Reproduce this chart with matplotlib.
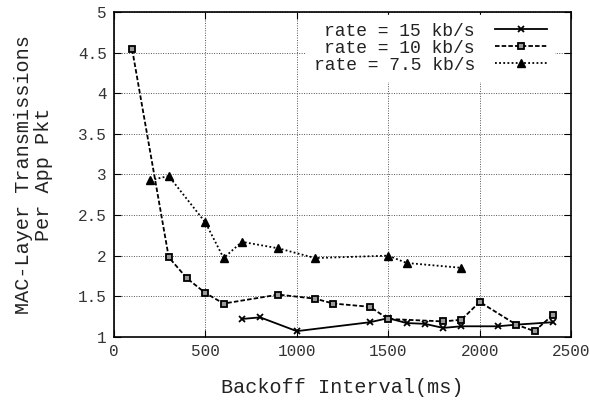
import matplotlib.pyplot as plt

# rate = 15 kb/s
x15 = [700, 800, 1000, 1400, 1500, 1600, 1700, 1800, 1900, 2100, 2200, 2400]
y15 = [1.22, 1.24, 1.07, 1.18, 1.23, 1.17, 1.16, 1.11, 1.13, 1.13, 1.15, 1.18]

# rate = 10 kb/s
x10 = [100, 300, 400, 500, 600, 900, 1100, 1200, 1400, 1500, 1800, 1900, 2000, 2200, 2300, 2400]
y10 = [4.54, 1.98, 1.72, 1.54, 1.41, 1.52, 1.47, 1.41, 1.37, 1.22, 1.19, 1.21, 1.43, 1.15, 1.07, 1.27]

# rate = 7.5 kb/s
x75 = [200, 300, 500, 600, 700, 900, 1100, 1500, 1600, 1900]
y75 = [2.93, 2.98, 2.41, 1.97, 2.17, 2.09, 1.97, 2.00, 1.91, 1.85]

xticks = [0, 500, 1000, 1500, 2000, 2500]
yticks = [1, 1.5, 2, 2.5, 3, 3.5, 4, 4.5, 5]
ylabels = ["1", "1.5", "2", "2.5", "3", "3.5", "4", "4.5", "5"]

plt.rcParams["font.family"] = "Liberation Mono"

fig = plt.figure(figsize=(5.9, 4.01), dpi=100)
ax = fig.add_axes([0.193, 0.160, 0.775, 0.810])

ax.plot(x15, y15, color="black", lw=1.3, ls="-", marker="x", ms=4, mew=1.3,
        label="rate = 15 kb/s")
ax.plot(x10, y10, color="black", lw=1.3, ls=(0, (2.5, 1.2)), marker="s", ms=5,
        mfc="#9a9a9a", mec="black", mew=1.3, label="rate = 10 kb/s")
ax.plot(x75, y75, color="black", lw=1.3, ls=(0, (1, 1.3)), marker="^", ms=6,
        label="rate = 7.5 kb/s")

ax.set_xlim(0, 2500)
ax.set_ylim(1, 5)
ax.set_xticks(xticks)
ax.set_yticks(yticks)
ax.set_yticklabels(ylabels)
ax.grid(True, ls=(0, (1, 1.5)), color="#555555", lw=0.7)
ax.tick_params(direction="in", top=True, right=True, length=5, width=0.8,
               labelsize=11.5, labelcolor="#333333", pad=5)
for s in ax.spines.values():
    s.set_linewidth(1.2)

ax.set_xlabel("Backoff Interval(ms)", fontsize=14.5, color="#222222", labelpad=14)
ax.set_ylabel("MAC-Layer Transmissions\nPer App Pkt", fontsize=14.5,
              color="#222222", labelpad=18, linespacing=1.05)

leg = ax.legend(loc="upper right", bbox_to_anchor=(0.963, 0.99),
                markerfirst=False, frameon=True,
                prop={"size": 13}, handlelength=2.9,
                borderaxespad=0, labelspacing=0.0, handletextpad=1.1,
                fancybox=False, edgecolor="white", framealpha=1)
for t in leg.get_texts():
    t.set_ha("right")
    t.set_color("#222222")

fig.savefig("out.png", dpi=100)
